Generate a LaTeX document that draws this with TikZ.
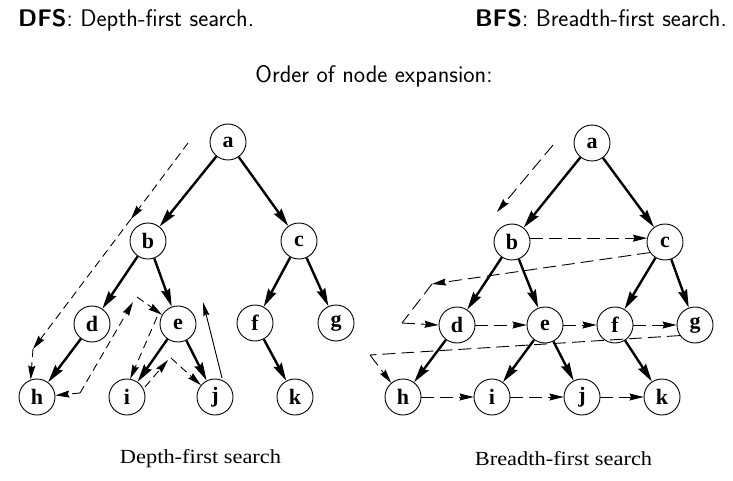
\documentclass[tikz,border=0pt]{standalone}
\usepackage{fontspec}
\setmainfont{Liberation Serif}
\usetikzlibrary{arrows.meta}
\begin{document}
\begin{tikzpicture}[x=1pt,y=-1pt,
  vtx/.style={circle, draw, line width=0.9pt, minimum size=36pt, inner sep=0pt,
    font=\fontsize{22}{22}\selectfont\bfseries},
  tree/.style={line width=2.4pt, -{Stealth[length=18pt,width=9pt,inset=2pt]}},
  dsh/.style={line width=0.9pt, dash pattern=on 8pt off 5pt,
    -{Stealth[length=14pt,width=7pt,inset=1.5pt]}},
  dshL/.style={line width=0.9pt, dash pattern=on 13pt off 6pt,
    -{Stealth[length=14pt,width=7pt,inset=1.5pt]}},
  dshplain/.style={line width=0.9pt, dash pattern=on 13pt off 6pt},
  thinarrow/.style={line width=0.9pt, -{Stealth[length=14pt,width=6pt,inset=1.5pt]}},
  ttl/.style={font=\sffamily\fontsize{24}{26}\selectfont, inner sep=0pt},
  captxt/.style={font=\fontsize{20}{22}\selectfont, inner sep=0pt}]
\useasboundingbox (0,0) rectangle (733,481);

% titles
\node[ttl, anchor=base west] (t1) at (18,27) {\textbf{DFS}: Depth-first search.};
\node[ttl, anchor=base east] (t2) at (727,27) {\textbf{BFS}: Breadth-first search.};
\node[ttl, anchor=base] (t3) at (374,83) {Order of node expansion:};
\node[captxt, anchor=base] (c1) at (200.5,463) {\scalebox{1.12}[1]{Depth-first search}};
\node[captxt, anchor=base] (c2) at (563.5,465) {\scalebox{1.12}[1]{Breadth-first search}};

% ---------- left tree (DFS) ----------
\node[vtx] (la) at (228,142) {a};
\node[vtx] (lb) at (148,241) {b};
\node[vtx] (lc) at (299,241) {c};
\node[vtx] (ld) at (92,324) {d};
\node[vtx] (le) at (178,324) {e};
\node[vtx] (lf) at (255,323) {f};
\node[vtx] (lg) at (336,323) {g};
\node[vtx] (lh) at (37,397) {h};
\node[vtx] (li) at (127,397) {i};
\node[vtx] (lj) at (215,397) {j};
\node[vtx] (lk) at (295,397) {k};
\draw[tree] (la) -- (lb);
\draw[tree] (la) -- (lc);
\draw[tree] (lb) -- (ld);
\draw[tree] (lb) -- (le);
\draw[tree] (lc) -- (lf);
\draw[tree] (lc) -- (lg);
\draw[tree] (ld) -- (lh);
\draw[tree] (le) -- (li);
\draw[tree] (le) -- (lj);
\draw[tree] (lf) -- (lk);

\coordinate (p0) at (188,143);
\coordinate (p1) at (131,219);
\coordinate (p2) at (33,349);
\coordinate (p3) at (80,393);
\coordinate (p4) at (133,302);
\coordinate (p5) at (137,297);
\coordinate (p6) at (157,317);
\coordinate (p7) at (145,387);
\coordinate (p8) at (168,360);
\coordinate (p9) at (171,358);
\coordinate (p10) at (222,378);
\coordinate (p11) at (203,302);
\draw[dsh] (p0) -- (p1);
\draw[dsh] (p1) -- (p2);
\draw[dsh] (p2) -- (lh.110);
\draw[dsh] (p3) -- (lh.5);
\draw[dsh] (p3) -- (p4);
\draw[dsh] (p5) -- (le.150);
\draw[dsh] (p6) -- (li.80);
\draw[dsh] (p7) -- (p8);
\draw[dsh] (p9) -- (lj.140);
\draw[thinarrow] (p10) -- (p11);

% ---------- right tree (BFS) ----------
\node[vtx] (ra) at (592,143) {a};
\node[vtx] (rb) at (512,242) {b};
\node[vtx] (rc) at (665,242) {c};
\node[vtx] (rd) at (457,325) {d};
\node[vtx] (re) at (545,325) {e};
\node[vtx] (rf) at (615,325) {f};
\node[vtx] (rg) at (695,325) {g};
\node[vtx] (rh) at (403,397) {h};
\node[vtx] (ri) at (492,397) {i};
\node[vtx] (rj) at (582,397) {j};
\node[vtx] (rk) at (662,397) {k};
\draw[tree] (ra) -- (rb);
\draw[tree] (ra) -- (rc);
\draw[tree] (rb) -- (rd);
\draw[tree] (rb) -- (re);
\draw[tree] (rc) -- (rf);
\draw[tree] (rc) -- (rg);
\draw[tree] (rd) -- (rh);
\draw[tree] (re) -- (ri);
\draw[tree] (re) -- (rj);
\draw[tree] (rf) -- (rk);

\coordinate (q0) at (553,145);
\coordinate (q1) at (497,212);
\coordinate (q2) at (432,284);
\coordinate (q3) at (402,323);
\coordinate (q4) at (370,355);
\draw[dshL] (q0) -- (q1);
\draw[dshL] (rb.12) -- (rc.168);
\draw[dshL] (rc.215) -- (q2);
\draw[dshplain] (q2) -- (q3);
\draw[dshL] (q3) -- (rd.west);
\draw[dshL] (rd) -- (re);
\draw[dshL] (re) -- (rf);
\draw[dshL] (rf) -- (rg);
\draw[dshplain] (rg.215) -- (q4);
\draw[dshL] (q4) -- (rh.130);
\draw[dshL] (rh) -- (ri);
\draw[dshL] (ri) -- (rj);
\draw[dshL] (rj) -- (rk);
\end{tikzpicture}
\end{document}
